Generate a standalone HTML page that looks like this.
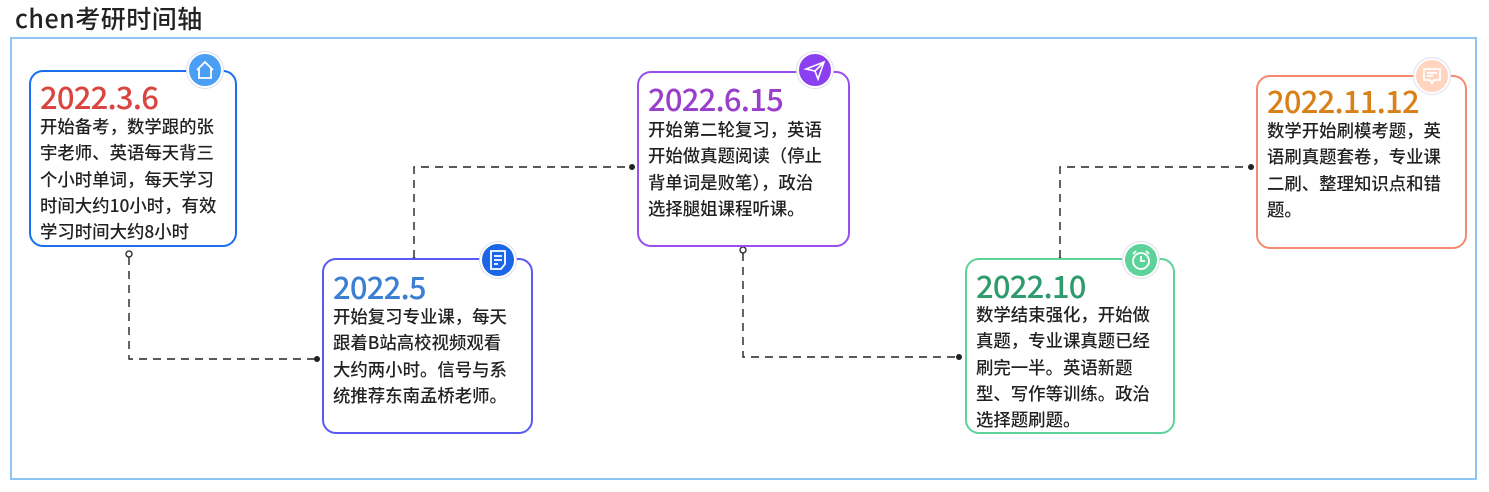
<!DOCTYPE html>
<html><head><meta charset="utf-8"><style>
body{margin:0;width:1489px;height:492px;background:#fff;position:relative;overflow:hidden;font-family:"Liberation Sans","Noto Sans CJK SC",sans-serif;}
.title{position:absolute;left:15px;top:0px;font-size:25px;color:#222;font-family:"Noto Sans CJK SC",sans-serif;font-weight:500;letter-spacing:0.5px;}
.frame{position:absolute;left:10px;top:37px;width:1463px;height:439px;border:2px solid #8ec5f5;}
.box{position:absolute;border:2px solid;border-radius:14px;background:#fff;box-sizing:border-box;}
.date{position:absolute;left:9px;font-size:31px;font-family:"Noto Sans CJK SC",sans-serif;font-weight:500;line-height:36px;letter-spacing:-0.8px;}
.txt{position:absolute;left:9px;font-size:17.4px;line-height:26.3px;color:#222;white-space:nowrap;font-family:"Noto Sans CJK SC",sans-serif;font-weight:500;}
.ic{position:absolute;width:32px;height:32px;border-radius:50%;border:2px solid #fff;box-shadow:0 0 0 1px #dde;}
svg{position:absolute;left:0;top:0;}
</style></head><body>
<div class="title">chen考研时间轴</div>
<div class="frame"></div>
<svg width="1489" height="492">
<g fill="none" stroke="#222" stroke-width="1.4" stroke-dasharray="8,6">
<path d="M129 257 V359 H317"/>
<path d="M414 258 V167 H632"/>
<path d="M743 253 V357 H959"/>
<path d="M1060 258 V167 H1251"/>
</g>
<g fill="#222"><circle cx="317" cy="359" r="3"/><circle cx="632" cy="167" r="3"/><circle cx="959" cy="357" r="3"/><circle cx="1251" cy="167" r="3"/></g>
<g fill="#fff" stroke="#222" stroke-width="1.3"><circle cx="129" cy="254" r="3"/><circle cx="414" cy="261" r="3"/><circle cx="743" cy="250" r="3"/><circle cx="1060" cy="261" r="3"/></g>
</svg>

<div class="box" style="left:29px;top:70px;width:208px;height:177px;border-color:#1a6ff0">
<div class="date" style="top:6px;color:#d9453f">2022.3.6</div>
<div class="txt" style="top:42px">开始备考，数学跟的张<br>宇老师、英语每天背三<br>个小时单词，每天学习<br>时间大约10小时，有效<br>学习时间大约8小时</div></div>

<div class="box" style="left:322px;top:258px;width:211px;height:176px;border-color:#5a5af0">
<div class="date" style="top:8px;color:#3a7fd4">2022.5</div>
<div class="txt" style="top:44px">开始复习专业课，每天<br>跟着B站高校视频观看<br>大约两小时。信号与系<br>统推荐东南孟桥老师。</div></div>

<div class="box" style="left:637px;top:71px;width:213px;height:176px;border-color:#9a4ef0">
<div class="date" style="top:7px;color:#9a3fcc">2022.6.15</div>
<div class="txt" style="top:44px">开始第二轮复习，英语<br>开始做真题阅读（停止<br>背单词是败笔），政治<br>选择腿姐课程听课。</div></div>

<div class="box" style="left:965px;top:258px;width:210px;height:176px;border-color:#5dd39a">
<div class="date" style="top:7px;color:#2f9a6e">2022.10</div>
<div class="txt" style="top:42px">数学结束强化，开始做<br>真题，专业课真题已经<br>刷完一半。英语新题<br>型、写作等训练。政治<br>选择题刷题。</div></div>

<div class="box" style="left:1256px;top:75px;width:211px;height:174px;border-color:#f58a70">
<div class="date" style="top:5px;color:#d98019">2022.11.12</div>
<div class="txt" style="top:41px">数学开始刷模考题，英<br>语刷真题套卷，专业课<br>二刷、整理知识点和错<br>题。</div></div>

<div class="ic" style="left:187px;top:52px;background:#4a9ff5"><svg width="32" height="32" style="position:static"><path d="M8 16 L16 8 L24 16 M10 14 V24 H22 V14" fill="none" stroke="#fff" stroke-width="1.8"/></svg></div>
<div class="ic" style="left:480px;top:242px;background:#1a66e6"><svg width="32" height="32" style="position:static"><path d="M9 7 H23 V20 L19 25 H9 Z M12 12 H20 M12 16 H20 M12 20 H16" fill="none" stroke="#fff" stroke-width="1.8"/></svg></div>
<div class="ic" style="left:797px;top:52px;background:#8a3ff0"><svg width="32" height="32" style="position:static"><path d="M7 15 L25 8 L19 25 L16 17 Z M16 17 L25 8" fill="none" stroke="#fff" stroke-width="1.6"/></svg></div>
<div class="ic" style="left:1123px;top:242px;background:#5dd39a"><svg width="32" height="32" style="position:static"><circle cx="16" cy="17" r="8" fill="none" stroke="#fff" stroke-width="1.8"/><path d="M16 12 V17 H20 M8 10 L11 7 M24 10 L21 7" fill="none" stroke="#fff" stroke-width="1.8"/></svg></div>
<div class="ic" style="left:1414px;top:58px;background:#ffd5bf"><svg width="32" height="32" style="position:static"><path d="M8 9 H24 V20 H18 L16 23 L14 20 H8 Z M11 13 H21 M11 16 H17" fill="none" stroke="#fff" stroke-width="1.8"/></svg></div>
</body></html>
